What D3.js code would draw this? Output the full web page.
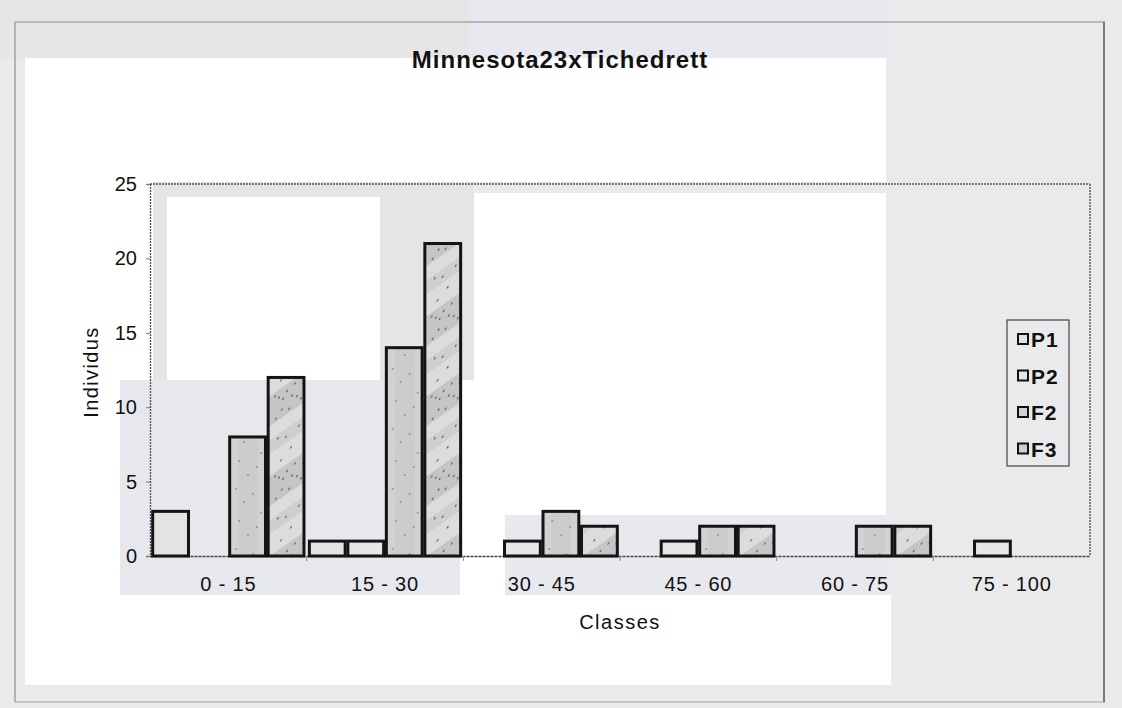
<!DOCTYPE html>
<html>
<head>
<meta charset="utf-8">
<script src="https://cdn.jsdelivr.net/npm/d3@7"></script>
<style>
  html, body { margin: 0; padding: 0; background: #e9e9eb; }
  svg { display: block; }
  text { font-family: "Liberation Sans", Arial, sans-serif; fill: #111; }
</style>
</head>
<body>
<svg id="chart" width="1122" height="708"></svg>
<script>
// Size classes and the four populations
const classes = ["0 - 15", "15 - 30", "30 - 45", "45 - 60", "60 - 75", "75 - 100"];
const seriesNames = ["P1", "P2", "F2", "F3"];
const P1 = [3, 1, 0, 0, 0, 0];
const P2 = [0, 1, 1, 1, 0, 1];
const F2 = [8, 14, 3, 2, 2, 0];
const F3 = [12, 21, 2, 2, 2, 0];
const yTicks = [0, 5, 10, 15, 20, 25];
const title = "Minnesota23xTichedrett";
const xTitle = "Classes";
const yTitle = "Individus";

const seriesValues = { P1, P2, F2, F3 };
const rows = classes.map((c, i) => ({
  cls: c,
  values: seriesNames.map(s => ({ key: s, value: seriesValues[s][i] }))
}));

const svg = d3.select("#chart");
const defs = svg.append("defs");

// Fill patterns for the bars
const fills = {
  P1: "#e3e3e3",
  P2: "#e6e6e6",
  F2: "url(#patF2)",
  F3: "url(#patF3)"
};

const pF2 = defs.append("pattern").attr("id", "patF2")
  .attr("patternUnits", "userSpaceOnUse").attr("width", 40).attr("height", 60);
pF2.append("rect").attr("width", 40).attr("height", 60).attr("fill", "#d2d2d2");
pF2.append("rect").attr("x", 8).attr("width", 20).attr("height", 60).attr("fill", "#c8c8c8").attr("opacity", 0.6);
[[6, 9], [14, 22], [23, 14], [9, 41], [27, 47], [18, 55], [31, 33]].forEach(([cx, cy]) =>
  pF2.append("circle").attr("cx", cx).attr("cy", cy).attr("r", 0.8).attr("fill", "#666"));

const pF3 = defs.append("pattern").attr("id", "patF3")
  .attr("patternUnits", "userSpaceOnUse").attr("width", 40).attr("height", 80)
  .attr("patternTransform", "skewY(-35)");
pF3.append("rect").attr("width", 40).attr("height", 80).attr("fill", "#dcdcdc");
pF3.append("rect").attr("y", 0).attr("width", 40).attr("height", 30).attr("fill", "#bdbdbd").attr("opacity", 0.75);
pF3.append("rect").attr("y", 44).attr("width", 40).attr("height", 14).attr("fill", "#c6c6c6").attr("opacity", 0.6);
[[5, 4], [9, 8], [13, 12], [17, 7], [22, 15], [27, 19], [31, 24], [12, 22], [6, 27],
 [19, 26], [33, 10], [25, 5], [8, 48], [16, 52], [29, 50], [35, 56], [21, 66], [11, 72]].forEach(([cx, cy]) =>
  pF3.append("circle").attr("cx", cx).attr("cy", cy).attr("r", 0.9).attr("fill", "#555"));

// Paper backdrop: grey sheet with lighter sheets laid over it
const paper = svg.append("g");
paper.append("rect").attr("width", 1122).attr("height", 708).attr("fill", "#eaeaec");
paper.append("rect").attr("x", 0).attr("y", 0).attr("width", 470).attr("height", 58).attr("fill", "#e6e6e6");
paper.append("rect").attr("x", 470).attr("y", 0).attr("width", 416).attr("height", 58).attr("fill", "#e8e9ee");
paper.append("rect").attr("x", 153).attr("y", 182).attr("width", 321).attr("height", 198).attr("fill", "#e5e5e5");
const sheets = [
  [25, 58, 861, 124, "#ffffff"],
  [25, 58, 128, 627, "#ffffff"],
  [167, 197, 213, 183, "#ffffff"],
  [474, 193, 412, 322, "#ffffff"],
  [120, 380, 340, 217, "#e7e8ee"],
  [460, 380, 45, 217, "#ffffff"],
  [505, 515, 386, 80, "#e8e9ee"],
  [25, 595, 866, 90, "#ffffff"]
];
sheets.forEach(([x, y, w, h, c]) =>
  paper.append("rect").attr("x", x).attr("y", y).attr("width", w).attr("height", h).attr("fill", c));

// Outer chart border
const border = svg.append("g").attr("fill", "none");
border.append("line").attr("x1", 15).attr("x2", 1105).attr("y1", 22).attr("y2", 22).attr("stroke", "#8a8a8a").attr("stroke-width", 1.2);
border.append("line").attr("x1", 15).attr("x2", 15).attr("y1", 22).attr("y2", 702).attr("stroke", "#a0a0a0").attr("stroke-width", 1.5);
border.append("line").attr("x1", 15).attr("x2", 1105).attr("y1", 702).attr("y2", 702).attr("stroke", "#a0a0a0").attr("stroke-width", 1.2);
border.append("line").attr("x1", 1104).attr("x2", 1104).attr("y1", 22).attr("y2", 702).attr("stroke", "#555").attr("stroke-width", 1.5);

// Plot geometry
const plot = { left: 150, right: 1090, top: 184, bottom: 556 };

const x0 = d3.scaleBand().domain(classes).range([plot.left, plot.right]).paddingInner(0).paddingOuter(0);
const x1 = d3.scaleBand().domain(seriesNames).range([0, x0.bandwidth()]).padding(0.07);
const y = d3.scaleLinear().domain([0, 25]).range([plot.bottom, plot.top]);

// Plot area frame (dotted)
const frame = svg.append("g").attr("fill", "none").attr("stroke", "#555").attr("stroke-width", 1.4).attr("stroke-dasharray", "2,1");
frame.append("line").attr("x1", plot.left).attr("x2", plot.right).attr("y1", plot.top).attr("y2", plot.top);
frame.append("line").attr("x1", plot.right).attr("x2", plot.right).attr("y1", plot.top).attr("y2", plot.bottom);

// Y axis
const yAxis = svg.append("g")
  .attr("transform", `translate(${plot.left},0)`)
  .call(d3.axisLeft(y).tickValues(yTicks).tickSize(4).tickPadding(9).tickFormat(d3.format("d")));
yAxis.select(".domain").attr("stroke", "#555").attr("stroke-width", 1.4).attr("stroke-dasharray", "2,1");
yAxis.selectAll(".tick line").attr("stroke", "#777");
yAxis.selectAll(".tick text").attr("font-size", 20).attr("fill", "#111")
  .attr("font-family", "'Liberation Sans', Arial, sans-serif");

// X axis
const xAxis = svg.append("g")
  .attr("transform", `translate(0,${plot.bottom})`)
  .call(d3.axisBottom(x0).tickSize(0).tickPadding(21));
xAxis.select(".domain").attr("stroke", "#444").attr("stroke-width", 1.6).attr("stroke-dasharray", "3,1");
xAxis.selectAll(".tick text").attr("font-size", 20).attr("fill", "#111").attr("letter-spacing", "0.8px")
  .attr("font-family", "'Liberation Sans', Arial, sans-serif");
// tick marks between classes
svg.append("g").selectAll("line")
  .data(classes.slice(1))
  .join("line")
  .attr("x1", d => x0(d)).attr("x2", d => x0(d))
  .attr("y1", plot.bottom).attr("y2", plot.bottom + 5)
  .attr("stroke", "#888").attr("stroke-width", 1);

// Bars
const groups = svg.append("g").selectAll("g")
  .data(rows)
  .join("g")
  .attr("transform", d => `translate(${x0(d.cls)},0)`);

groups.selectAll("rect")
  .data(d => d.values.filter(v => v.value > 0))
  .join("rect")
  .attr("x", d => x1(d.key))
  .attr("y", d => y(d.value))
  .attr("width", x1.bandwidth())
  .attr("height", d => y(0) - y(d.value))
  .attr("fill", d => fills[d.key])
  .attr("stroke", "#141414")
  .attr("stroke-width", 3);

// Titles
svg.append("text")
  .attr("x", 560).attr("y", 68)
  .attr("text-anchor", "middle")
  .attr("font-size", 24).attr("font-weight", "bold").attr("letter-spacing", "1px")
  .text(title);

svg.append("text")
  .attr("x", 620).attr("y", 629)
  .attr("text-anchor", "middle")
  .attr("font-size", 20).attr("letter-spacing", "1.5px")
  .text(xTitle);

svg.append("text")
  .attr("transform", "translate(98,372) rotate(-90)")
  .attr("text-anchor", "middle")
  .attr("font-size", 20).attr("letter-spacing", "1.4px")
  .text(yTitle);

// Legend
const legend = svg.append("g").attr("transform", "translate(1007,320)");
legend.append("rect").attr("width", 62).attr("height", 146)
  .attr("fill", "none").attr("stroke", "#444").attr("stroke-width", 1.2);
const li = legend.selectAll("g.item")
  .data(seriesNames)
  .join("g").attr("class", "item")
  .attr("transform", (d, i) => `translate(0,${19 + i * 36.5})`);
li.append("rect")
  .attr("x", 11).attr("y", -5).attr("width", 10).attr("height", 10)
  .attr("fill", d => d === "P1" || d === "P2" ? fills[d] : "#cfcfcf")
  .attr("stroke", "#111").attr("stroke-width", 2);
li.append("text")
  .attr("x", 24).attr("y", 8)
  .attr("font-size", 21).attr("font-weight", "bold").attr("letter-spacing", "1px")
  .attr("fill", "#222")
  .text(d => d);
</script>
</body>
</html>
